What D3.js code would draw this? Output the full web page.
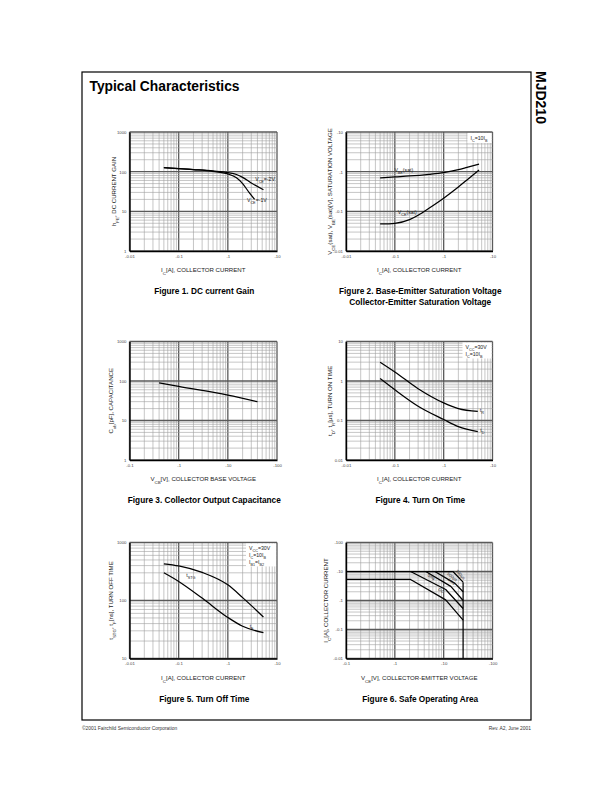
<!DOCTYPE html>
<html>
<head>
<meta charset="utf-8">
<script src="https://cdn.jsdelivr.net/npm/d3@7"></script>
<style>
  body { margin: 0; background: #fff; }
  text { font-family: "Liberation Sans", Arial, Helvetica, sans-serif; }
</style>
</head>
<body>
<div id="page"></div>
<script>
// ---- data ----
var decX2 = [0.01, 0.1, 1, 10];
var decX2Labels = ["-0.01", "-0.1", "-1", "-10"];
var decX3 = [0.1, 1, 10, 100];
var decX3Labels = ["-0.1", "-1", "-10", "-100"];

// Figure 1: DC current gain
var f1YTicks = [1, 10, 100, 1000];
var f1YLabels = ["1", "10", "100", "1000"];
var hfeVce2 = [[0.05, 126], [0.1, 120], [0.2, 113], [0.5, 104], [1, 95], [1.5, 85], [2, 72], [3, 52], [5.3, 35]];
var hfeVce1 = [[0.05, 126], [0.1, 120], [0.2, 113], [0.5, 102], [1, 88], [1.5, 70], [2, 50], [2.7, 30], [3.5, 20]];

// Figure 2: saturation voltages
var f2YTicks = [0.01, 0.1, 1, 10];
var f2YLabels = ["-0.01", "-0.1", "-1", "-10"];
var vbeSat = [[0.05, 0.70], [0.1, 0.74], [0.2, 0.78], [0.5, 0.86], [1, 0.95], [2, 1.12], [3, 1.28], [5.3, 1.55]];
var vceSat = [[0.05, 0.048], [0.1, 0.05], [0.2, 0.062], [0.3, 0.08], [0.5, 0.12], [1, 0.215], [2, 0.41], [3, 0.62], [5.3, 1.1]];

// Figure 3: output capacitance
var f3YTicks = [1, 10, 100, 1000];
var f3YLabels = ["1", "10", "100", "1000"];
var cob = [[0.4, 90], [1, 73], [10, 44], [40, 30]];

// Figure 4: turn on time
var f4YTicks = [0.01, 0.1, 1, 10];
var f4YLabels = ["0.01", "0.1", "1", "10"];
var tRise = [[0.05, 3.0], [0.1, 1.7], [0.3, 0.64], [1, 0.28], [2, 0.2], [5, 0.17]];
var tDelay = [[0.05, 1.15], [0.1, 0.6], [0.3, 0.23], [1, 0.106], [2, 0.07], [5, 0.052]];

// Figure 5: turn off time
var f5YTicks = [10, 100, 1000];
var f5YLabels = ["10", "100", "1000"];
var tStg = [[0.05, 430], [0.1, 395], [0.3, 305], [1, 186], [2, 112], [5.3, 52]];
var tFall = [[0.05, 300], [0.1, 213], [0.3, 110], [1, 51], [2, 36], [5.3, 28]];

// Figure 6: safe operating area
var f6YTicks = [0.01, 0.1, 1, 10, 100];
var f6YLabels = ["-0.01", "-0.1", "-1", "-10", "-100"];
var soa100us = [[0.1, 10], [15.5, 10], [25, 4.3]];
var soa500us = [[6.6, 10], [17, 3.9], [25, 2.0]];
var soa1ms = [[4.3, 10], [14, 3.07], [25, 1.0]];
var soa5ms = [[2.1, 10], [11, 2.4], [25, 0.53]];
var soaDC = [[0.1, 5.3], [2.1, 5.3], [11, 1.05], [25, 0.21]];
var soaVceo = [[25, 4.3], [25, 0.01]];

// ---- page ----
var svg = d3.select("#page").append("svg")
    .attr("width", 612)
    .attr("height", 792);

// text with {subscript} parts
function rich(sel, str) {
    str.split(/(\{[^}]*\})/).forEach(function (p) {
        if (!p) return;
        if (p[0] === "{") {
            sel.append("tspan").attr("baseline-shift", "sub").attr("font-size", "72%").text(p.slice(1, -1));
        } else {
            sel.append("tspan").text(p);
        }
    });
    return sel;
}

svg.append("rect")
    .attr("x", 82).attr("y", 72).attr("width", 449).attr("height", 648)
    .attr("fill", "none").attr("stroke", "#000").attr("stroke-width", 1.2);

svg.append("text")
    .attr("x", 89.5).attr("y", 90.5)
    .attr("font-size", 13.8).attr("font-weight", "bold")
    .text("Typical Characteristics");

svg.append("text")
    .attr("transform", "translate(536,71) rotate(90)")
    .attr("font-size", 14).attr("font-weight", "bold")
    .text("MJD210");

svg.append("text")
    .attr("x", 82).attr("y", 729.5).attr("font-size", 4.9).attr("fill", "#333")
    .text("\u00A92001 Fairchild Semiconductor Corporation");
svg.append("text")
    .attr("x", 531).attr("y", 729.5).attr("font-size", 4.9).attr("fill", "#333")
    .attr("text-anchor", "end")
    .text("Rev. A2, June 2001");

function isMajor(v) {
    var l = Math.log10(v);
    return Math.abs(l - Math.round(l)) < 1e-6;
}

function logChart(c) {
    var x = d3.scaleLog().domain(d3.extent(c.xTicks)).range([c.x0, c.x1]);
    var y = d3.scaleLog().domain(d3.extent(c.yTicks)).range([c.y1, c.y0]);
    var g = svg.append("g");

    // grid, minor first then decades on top
    var gx = x.ticks().sort(function (a, b) { return isMajor(a) - isMajor(b); });
    var gy = y.ticks().sort(function (a, b) { return isMajor(a) - isMajor(b); });
    g.append("g").selectAll("line").data(gx).join("line")
        .attr("x1", function (d) { return x(d); }).attr("x2", function (d) { return x(d); })
        .attr("y1", c.y0).attr("y2", c.y1)
        .attr("stroke", function (d) { return isMajor(d) ? "#5a5a5a" : "#a0a0a0"; })
        .attr("stroke-width", function (d) { return isMajor(d) ? 1.3 : 0.6; });
    g.append("g").selectAll("line").data(gy).join("line")
        .attr("y1", function (d) { return y(d); }).attr("y2", function (d) { return y(d); })
        .attr("x1", c.x0).attr("x2", c.x1)
        .attr("stroke", function (d) { return isMajor(d) ? "#5a5a5a" : "#a0a0a0"; })
        .attr("stroke-width", function (d) { return isMajor(d) ? 1.3 : 0.6; });

    // legend boxes knock out the grid
    (c.boxes || []).forEach(function (b) {
        var bx = c.x1 - b.w, by = c.y0 + 1;
        g.append("rect").attr("x", bx).attr("y", by).attr("width", b.w - 1).attr("height", b.h)
            .attr("fill", "#fff");
        b.lines.forEach(function (s, i) {
            rich(g.append("text")
                .attr("x", bx + 3).attr("y", by + 6.5 + i * 7)
                .attr("font-size", 5.2).attr("fill", "#222"), s);
        });
    });

    // axes
    var ax = g.append("g")
        .attr("transform", "translate(0," + c.y1 + ")")
        .call(d3.axisBottom(x).tickValues(c.xTicks)
            .tickFormat(function (d, i) { return c.xLabels[i]; })
            .tickSize(0).tickSizeOuter(0).tickPadding(3.5));
    var ay = g.append("g")
        .attr("transform", "translate(" + c.x0 + ",0)")
        .call(d3.axisLeft(y).tickValues(c.yTicks)
            .tickFormat(function (d, i) { return c.yLabels[i]; })
            .tickSize(0).tickSizeOuter(0).tickPadding(3));
    [ax, ay].forEach(function (a) {
        a.attr("font-family", null).attr("font-size", 4.3);
        a.selectAll("text").attr("fill", "#444");
        a.select(".domain").attr("stroke", "#000").attr("stroke-width", 1.4);
    });

    // curves
    var line = d3.line()
        .x(function (d) { return x(d[0]); })
        .y(function (d) { return y(d[1]); })
        .curve(c.straight ? d3.curveLinear : d3.curveMonotoneX);
    c.series.forEach(function (s) {
        g.append("path").datum(s)
            .attr("fill", "none").attr("stroke", "#000").attr("stroke-width", 1.25)
            .attr("stroke-linejoin", "round")
            .attr("d", line);
    });

    // curve labels
    (c.notes || []).forEach(function (n) {
        var t = g.append("text")
            .attr("font-size", n.size || 5.2).attr("fill", "#222");
        if (n.rot) {
            t.attr("transform", "translate(" + x(n.at[0]) + "," + y(n.at[1]) + ") rotate(" + n.rot + ")");
        } else {
            t.attr("x", x(n.at[0])).attr("y", y(n.at[1]));
        }
        rich(t, n.text);
    });

    // axis titles
    var cx = (c.x0 + c.x1) / 2, cy = (c.y0 + c.y1) / 2;
    rich(g.append("text")
        .attr("x", cx).attr("y", c.y1 + 21)
        .attr("text-anchor", "middle").attr("font-size", 6.1).attr("fill", "#222"), c.xTitle);
    rich(g.append("text")
        .attr("transform", "translate(" + (c.x0 - c.yTitleGap) + "," + cy + ") rotate(-90)")
        .attr("text-anchor", "middle").attr("font-size", 6.1).attr("fill", "#222"), c.yTitle);

    c.caption.forEach(function (s, i) {
        var t = g.append("text")
            .attr("x", cx + 1).attr("y", c.y1 + 43 + i * 10.5)
            .attr("text-anchor", "middle")
            .attr("font-size", 9.2).attr("font-weight", "bold")
            .text(s);
        // the datasheet uses a condensed face
        t.attr("textLength", t.node().getComputedTextLength() * 0.9)
            .attr("lengthAdjust", "spacingAndGlyphs");
    });
}

var L = { x0: 129.5, x1: 277 }, R = { x0: 346, x1: 492.5 };
var rows = [{ y0: 132, y1: 251 }, { y0: 341.5, y1: 460 }, { y0: 542.5, y1: 658.5 }];

logChart(Object.assign({}, L, rows[0], {
    xTicks: decX2, xLabels: decX2Labels, yTicks: f1YTicks, yLabels: f1YLabels,
    series: [hfeVce2, hfeVce1],
    notes: [{ at: [3.6, 58], text: "V{CE}=-2V" }, { at: [2.45, 17], text: "V{CE}=-1V" }],
    xTitle: "I{C}[A], COLLECTOR CURRENT", yTitle: "h{FE}, DC CURRENT GAIN", yTitleGap: 14,
    caption: ["Figure 1. DC current Gain"]
}));

logChart(Object.assign({}, R, rows[0], {
    xTicks: decX2, xLabels: decX2Labels, yTicks: f2YTicks, yLabels: f2YLabels,
    series: [vbeSat, vceSat],
    boxes: [{ w: 25, h: 10, lines: ["I{C}=10I{B}"] }],
    notes: [{ at: [0.098, 1.0], text: "V{BE}(sat)" }, { at: [0.115, 0.084], text: "V{CE}(sat)" }],
    xTitle: "I{C}[A], COLLECTOR CURRENT", yTitle: "V{CE}(sat), V{BE}(sat)[V], SATURATION VOLTAGE", yTitleGap: 14,
    caption: ["Figure 2. Base-Emitter Saturation Voltage", "Collector-Emitter Saturation Voltage"]
}));

logChart(Object.assign({}, L, rows[1], {
    xTicks: decX3, xLabels: decX3Labels, yTicks: f3YTicks, yLabels: f3YLabels,
    series: [cob],
    xTitle: "V{CB}[V], COLLECTOR BASE VOLTAGE", yTitle: "C{ob}[pF], CAPACITANCE", yTitleGap: 17,
    caption: ["Figure 3. Collector Output Capacitance"]
}));

logChart(Object.assign({}, R, rows[1], {
    xTicks: decX2, xLabels: decX2Labels, yTicks: f4YTicks, yLabels: f4YLabels,
    series: [tRise, tDelay],
    boxes: [{ w: 30, h: 16, lines: ["V{CC}=30V", "I{C}=10I{B}"] }],
    notes: [{ at: [5.5, 0.16], text: "t{R}" }, { at: [5.6, 0.051], text: "t{D}" }],
    xTitle: "I{C}[A], COLLECTOR CURRENT", yTitle: "t{D}, t{R}[\u03BCs], TURN ON TIME", yTitleGap: 14,
    caption: ["Figure 4. Turn On Time"]
}));

logChart(Object.assign({}, L, rows[2], {
    xTicks: decX2, xLabels: decX2Labels, yTicks: f5YTicks, yLabels: f5YLabels,
    series: [tStg, tFall],
    boxes: [{ w: 31, h: 23, lines: ["V{CC}=30V", "I{C}=10I{B}", "I{B1}=I{B2}"] }],
    notes: [{ at: [0.143, 250], text: "t{STG}" }, { at: [2.78, 33], text: "t{F}" }],
    xTitle: "I{C}[A], COLLECTOR CURRENT", yTitle: "t{STG}, t{F}[ns], TURN OFF TIME", yTitleGap: 17,
    caption: ["Figure 5. Turn Off Time"]
}));

logChart(Object.assign({}, R, rows[2], {
    xTicks: decX3, xLabels: decX3Labels, yTicks: f6YTicks, yLabels: f6YLabels,
    series: [soa100us, soa500us, soa1ms, soa5ms, soaDC, soaVceo], straight: true,
    notes: [
        { at: [17.5, 10.5], text: "100\u03BCs", rot: 50, size: 4.3 },
        { at: [11.5, 8.0], text: "500\u03BCs", rot: 38, size: 4.3 },
        { at: [12.0, 5.0], text: "1ms", rot: 38, size: 4.3 },
        { at: [4.6, 7.2], text: "5ms", rot: 35, size: 4.3 },
        { at: [7.6, 2.3], text: "DC", rot: 35, size: 4.3 }
    ],
    xTitle: "V{CE}[V], COLLECTOR-EMITTER VOLTAGE", yTitle: "I{C}[A], COLLECTOR CURRENT", yTitleGap: 18,
    caption: ["Figure 6. Safe Operating Area"]
}));
</script>
</body>
</html>
